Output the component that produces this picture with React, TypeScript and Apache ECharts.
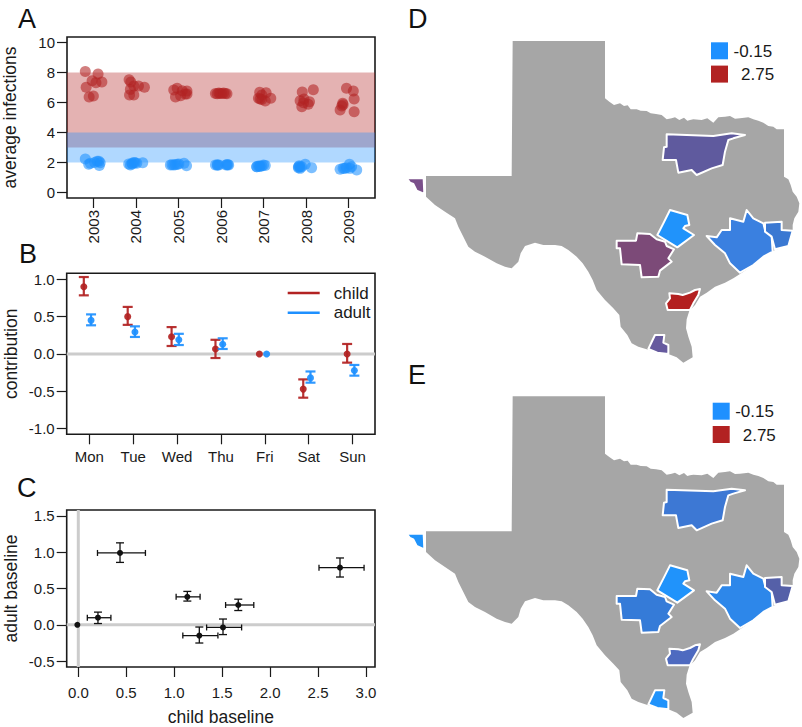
import React, { useEffect, useRef } from "react";
import * as echarts from "echarts";

const FONT = "Liberation Sans";
const RED = "#b22222";
const BLUE = "#1e90ff";

// Panel A
const years = [2003, 2004, 2005, 2006, 2007, 2008, 2009];
const infectionTicks = [0, 2, 4, 6, 8, 10];
const childBand = [3, 8];
const adultBand = [2, 4];
// [jitter, average infections] per year
const child2003 = [[-0.19, 8.08], [0.11, 7.91], [0.2, 7.37], [-0.03, 7.46], [0.06, 7.33], [-0.17, 7.02], [-0.1, 6.37], [0, 6.44]];
const child2004 = [[-0.16, 7.53], [-0.12, 7.37], [-0.05, 7.1], [-0.13, 6.88], [0.2, 7.02], [0.06, 7.1], [-0.15, 6.5], [-0.05, 6.5]];
const child2005 = [[-0.03, 6.95], [-0.11, 6.84], [0.09, 6.79], [0.2, 6.77], [0.16, 6.57], [-0.07, 6.37], [0.05, 6.46], [0.2, 6.57]];
const child2006 = [[-0.13, 6.61], [-0.05, 6.64], [0.02, 6.61], [0.1, 6.61], [0.14, 6.59], [-0.09, 6.59], [-0.02, 6.61], [0.06, 6.64]];
const child2007 = [[-0.09, 6.68], [0.06, 6.66], [-0.04, 6.5], [-0.12, 6.28], [0.17, 6.28], [-0.04, 6.21], [0.04, 6.1], [-0.08, 6.24]];
const child2008 = [[-0.09, 6.7], [0.17, 6.86], [-0.14, 6.12], [-0.05, 6.24], [-0.1, 5.72], [0.08, 6.06], [0.05, 5.88], [-0.06, 5.99]];
const child2009 = [[-0.05, 6.95], [0.11, 6.77], [0.13, 6.24], [-0.14, 5.95], [-0.16, 5.77], [-0.2, 5.5], [0.13, 5.39], [-0.13, 5.86]];
const adult2003 = [[-0.19, 2.23], [-0.11, 1.87], [0.03, 2.0], [0.13, 2.07], [0.16, 1.98], [0.14, 1.8], [0.09, 2.07], [-0.07, 1.94]];
const adult2004 = [[-0.17, 1.89], [-0.05, 2.0], [-0.09, 1.89], [0.02, 1.94], [0.16, 1.98], [-0.13, 1.83], [-0.02, 1.98], [-0.09, 1.94]];
const adult2005 = [[-0.19, 1.83], [-0.07, 1.85], [0.01, 1.89], [0.13, 1.94], [0.19, 1.78], [-0.15, 1.85], [-0.03, 1.87], [-0.11, 1.83]];
const adult2006 = [[-0.13, 1.83], [-0.05, 1.83], [-0.09, 1.83], [0.14, 1.85], [0.18, 1.83], [0.12, 1.83], [-0.08, 1.83], [0.16, 1.85]];
const adult2007 = [[-0.16, 1.71], [-0.09, 1.74], [0, 1.83], [0.04, 1.8], [-0.12, 1.76], [-0.16, 1.71], [-0.04, 1.76], [-0.08, 1.74]];
const adult2008 = [[-0.18, 1.71], [-0.14, 1.6], [-0.02, 1.87], [0.13, 1.65], [-0.1, 1.71], [-0.18, 1.65], [-0.14, 1.71], [-0.16, 1.78]];
const adult2009 = [[-0.2, 1.54], [-0.09, 1.6], [0.02, 1.87], [0.03, 1.6], [0.19, 1.49], [-0.05, 1.65], [0.07, 1.71], [-0.13, 1.6]];
const childYears = [child2003, child2004, child2005, child2006, child2007, child2008, child2009];
const adultYears = [adult2003, adult2004, adult2005, adult2006, adult2007, adult2008, adult2009];

// Panel B
const days = ["Mon", "Tue", "Wed", "Thu", "Fri", "Sat", "Sun"];
const contributionTicks = [-1, -0.5, 0, 0.5, 1];
const childDayMean = [0.9, 0.5, 0.23, 0.067, 0, -0.47, 0];
const childDayLow = [0.785, 0.39, 0.107, -0.054, 0, -0.585, -0.116];
const childDayHigh = [1.03, 0.63, 0.36, 0.19, 0, -0.34, 0.134];
const adultDayMean = [0.45, 0.295, 0.19, 0.13, 0, -0.32, -0.22];
const adultDayLow = [0.384, 0.228, 0.12, 0.067, 0, -0.384, -0.29];
const adultDayHigh = [0.53, 0.37, 0.27, 0.21, 0, -0.234, -0.147];

// Panel C
const childBaseTicks = [0, 0.5, 1, 1.5, 2, 2.5, 3];
const adultBaseTicks = [-0.5, 0, 0.5, 1, 1.5];
const baseX = [-0.01, 0.205, 0.435, 1.137, 1.668, 1.509, 1.262, 2.729];
const baseXLow = [-0.01, 0.094, 0.2, 1.02, 1.536, 1.338, 1.09, 2.51];
const baseXHigh = [-0.01, 0.34, 0.7, 1.27, 1.83, 1.703, 1.456, 2.98];
const baseY = [0, 0.098, 0.989, 0.385, 0.273, -0.036, -0.148, 0.787];
const baseYLow = [0, 0.018, 0.859, 0.327, 0.197, -0.134, -0.25, 0.658];
const baseYHigh = [0, 0.175, 1.128, 0.46, 0.353, 0.08, -0.03, 0.92];

// Panels D and E: map outlines in map units
const texasOutline = [[338, 123], [615, 123], [615, 295], [628, 305], [642, 315], [660, 310], [672, 318], [683, 316], [692, 328], [710, 328], [722, 332], [740, 333], [752, 340], [768, 342], [785, 345], [800, 358], [815, 355], [825, 352], [838, 360], [852, 353], [862, 362], [870, 360], [880, 358], [905, 360], [922, 355], [940, 368], [955, 352], [975, 350], [990, 348], [1005, 356], [1020, 355], [1045, 352], [1060, 358], [1075, 362], [1090, 368], [1105, 378], [1120, 380], [1130, 388], [1152, 388], [1152, 530], [1165, 538], [1172, 555], [1178, 575], [1190, 590], [1198, 610], [1195, 635], [1183, 655], [1178, 675], [1178, 692], [1165, 738], [1125, 750], [1095, 765], [1060, 795], [1020, 822], [1000, 835], [975, 848], [945, 860], [920, 878], [900, 890], [885, 915], [868, 932], [860, 958], [858, 985], [865, 1010], [875, 1040], [878, 1072], [850, 1088], [830, 1072], [805, 1062], [775, 1058], [740, 1048], [715, 1040], [695, 1030], [682, 1005], [662, 980], [658, 945], [640, 925], [615, 900], [590, 870], [578, 840], [565, 815], [548, 790], [530, 770], [505, 750], [485, 738], [465, 735], [430, 735], [405, 728], [375, 738], [362, 760], [355, 785], [335, 805], [315, 800], [290, 790], [255, 770], [225, 755], [205, 740], [190, 710], [175, 680], [165, 655], [135, 635], [105, 615], [78, 590], [78, 528], [335, 528]];
const elPaso = [[20, 535], [71, 535], [73, 582], [50, 572], [40, 552], [30, 548]];
const dallas = [[800, 403], [940, 408], [995, 400], [1035, 405], [1000, 415], [985, 420], [975, 455], [968, 495], [935, 505], [890, 525], [875, 510], [835, 518], [828, 480], [788, 480], [792, 442], [800, 440]];
const austin = [[810, 630], [862, 645], [868, 675], [855, 678], [850, 685], [882, 705], [832, 742], [772, 705], [790, 670]];
const sanAntonio = [[650, 722], [708, 722], [712, 700], [750, 702], [770, 718], [795, 725], [800, 738], [822, 748], [805, 775], [815, 785], [780, 812], [775, 830], [725, 832], [720, 795], [665, 793], [660, 745], [650, 745]];
const houston = [[920, 708], [950, 712], [965, 690], [990, 690], [990, 655], [1030, 665], [1040, 630], [1060, 655], [1090, 670], [1095, 690], [1115, 710], [1118, 755], [1090, 770], [1060, 795], [1020, 818], [990, 790], [975, 760], [945, 735]];
const beaumont = [[1095, 668], [1145, 665], [1145, 690], [1178, 692], [1165, 738], [1125, 748], [1115, 710], [1095, 695]];
const corpus = [[808, 880], [835, 882], [848, 885], [870, 878], [885, 870], [900, 867], [895, 885], [880, 910], [870, 930], [803, 930], [798, 910], [810, 895]];
const mcallen = [[765, 1005], [793, 1005], [790, 1028], [805, 1035], [805, 1062], [772, 1058], [745, 1047]];
const regions = [elPaso, dallas, austin, sanAntonio, houston, beaumont, corpus, mcallen];
const regionColorsD = ["#7a4f8a", "#5f5a9e", "#2093fb", "#7c4a78", "#3a80e0", "#3a78d2", "#b32020", "#665a9e"];
const regionColorsE = ["#2093fb", "#3d78d4", "#2093fb", "#357bd8", "#2d87ea", "#5560a8", "#4e6ac0", "#2093fb"];
const legendValues = ["-0.15", "2.75"];
const legendColors = [BLUE, RED];

const AX = { fontFamily: FONT, color: "#1a1a1a" };

function makeAxis(min: number, max: number, ticks: number[], extra: any = {}) {
  const { axisLabel, ...rest } = extra;
  return {
    type: "value",
    min,
    max,
    splitLine: { show: false },
    axisLine: { show: false, onZero: false },
    axisTick: { show: true, length: 10, customValues: ticks, lineStyle: { color: "#1a1a1a", width: 1.2 } },
    axisLabel: { customValues: ticks, fontSize: 15, margin: 12, hideOverlap: false, ...AX, ...axisLabel },
    nameLocation: "middle",
    nameTextStyle: { fontSize: 17.5, ...AX },
    ...rest,
  };
}

function hiddenAxis(min: number, max: number, extra: any = {}) {
  return { type: "value", show: false, min, max, ...extra };
}

function errorBars(name: string, color: string, means: number[], lows: number[], highs: number[], offset: number) {
  return {
    name,
    type: "custom",
    xAxisIndex: 1,
    yAxisIndex: 1,
    z: 3,
    itemStyle: { color },
    encode: { x: 0, y: 1 },
    data: means.map((m, i) => [i + 1 + offset, m, lows[i], highs[i]]),
    renderItem: (_: any, api: any) => {
      const x = api.value(0);
      const [px, py] = api.coord([x, api.value(1)]);
      const lo = api.coord([x, api.value(2)])[1];
      const hi = api.coord([x, api.value(3)])[1];
      const s = { stroke: color, lineWidth: 2.2, opacity: 0.92 };
      const children: any[] = [];
      if (hi !== lo) {
        children.push(
          { type: "line", shape: { x1: px, y1: lo, x2: px, y2: hi }, style: s },
          { type: "line", shape: { x1: px - 5, y1: lo, x2: px + 5, y2: lo }, style: s },
          { type: "line", shape: { x1: px - 5, y1: hi, x2: px + 5, y2: hi }, style: s }
        );
      }
      children.push({ type: "circle", shape: { cx: px, cy: py, r: 3.5 }, style: { fill: color, opacity: 0.92 } });
      return { type: "group", children };
    },
  };
}

function mapSeries(index: number, colors: string[]) {
  const toPoints = (pts: number[][], api: any) => pts.map((p) => api.coord(p));
  return [
    {
      type: "custom",
      xAxisIndex: index,
      yAxisIndex: index,
      silent: true,
      clip: false,
      z: 1,
      encode: { x: 0, y: 1 },
      data: [[0, 0]],
      renderItem: (_: any, api: any) => ({
        type: "polygon",
        shape: { points: toPoints(texasOutline, api) },
        style: { fill: "#a6a6a6" },
      }),
    },
    {
      type: "custom",
      xAxisIndex: index,
      yAxisIndex: index,
      silent: true,
      clip: false,
      z: 2,
      encode: { x: 0, y: 1 },
      data: regions.map((_, i) => [i, i]),
      renderItem: (params: any, api: any) => ({
        type: "polygon",
        shape: { points: toPoints(regions[params.dataIndex], api) },
        style: { fill: colors[params.dataIndex], stroke: "#ffffff", lineWidth: 2, lineJoin: "round" },
      }),
    },
  ];
}

function refLine(xi: number, pts: number[][]) {
  return {
    type: "line",
    xAxisIndex: xi,
    yAxisIndex: xi,
    silent: true,
    z: 1,
    showSymbol: false,
    symbol: "none",
    lineStyle: { color: "#cccccc", width: 3 },
    data: pts,
  };
}

function legendBlock(top: number, left: number) {
  const out: any[] = [];
  legendValues.forEach((v, i) => {
    const y = top + i * 23.3;
    out.push({ type: "rect", left: left, top: y, shape: { width: 17, height: 17 }, style: { fill: legendColors[i] } });
    out.push({
      type: "text",
      left: i === 0 ? left + 22.5 : left + 30,
      top: y + 0.5,
      style: { text: v, fontSize: 17, fontFamily: FONT, fill: "#1a1a1a" },
    });
  });
  return out;
}

const letter = (text: string, left: number, top: number) => ({
  text,
  left,
  top,
  padding: 0,
  textStyle: { fontSize: 27, fontWeight: "normal", fontFamily: FONT, color: "#111" },
});

export default function App() {
  const ref = useRef<HTMLDivElement>(null);
  useEffect(() => {
    document.body.style.margin = "0";
    const chart = echarts.init(ref.current!, undefined, { renderer: "svg" });
    const gridBox = { show: true, borderColor: "#1a1a1a", borderWidth: 1.6, backgroundColor: "transparent" };
    const bandArea = (band: number[], color: string) => ({
      silent: true,
      itemStyle: { color, opacity: 0.35 },
      data: [[{ yAxis: band[0] }, { yAxis: band[1] }]],
    });
    const mkScatter = (name: string, color: string, sets: number[][][], band: number[]) => ({
      name: name + " infections",
      type: "scatter",
      xAxisIndex: 0,
      yAxisIndex: 0,
      symbolSize: 11,
      silent: true,
      itemStyle: { color, opacity: 0.58 },
      markArea: bandArea(band, color),
      data: sets.flatMap((pts, i) => pts.map((p) => [years[i] + p[0], p[1]])),
    });

    chart.setOption({
      animation: false,
      textStyle: { fontFamily: FONT },
      title: [
        letter("A", 18, 5),
        letter("B", 19, 240),
        letter("C", 17, 474),
        letter("D", 408, 5),
        letter("E", 408, 361),
      ],
      legend: {
        show: true,
        data: ["child", "adult"],
        orient: "vertical",
        left: 287.7,
        top: 284.5,
        padding: 0,
        itemWidth: 32,
        itemHeight: 2.5,
        itemGap: 2.7,
        icon: "rect",
        selectedMode: false,
        textStyle: { fontSize: 17, fontFamily: FONT, color: "#1a1a1a", lineHeight: 17, padding: [0, 0, 0, 9] },
      },
      grid: [
        { left: 66.7, top: 37, width: 308.3, height: 161, ...gridBox },
        { left: 66.7, top: 273.3, width: 308.3, height: 161, ...gridBox },
        { left: 66.7, top: 510, width: 308.3, height: 161, ...gridBox },
        { left: 400, top: 0, width: 402, height: 365, show: false },
        { left: 400, top: 355.33, width: 402, height: 365, show: false },
      ],
      xAxis: [
        {
          gridIndex: 0,
          ...makeAxis(2002.38, 2009.62, years, { axisLabel: { rotate: 90, formatter: (v: number) => String(v) } }),
        },
        {
          gridIndex: 1,
          ...makeAxis(0.485, 7.51, days.map((_, i) => i + 1), {
            axisLabel: { margin: 15, formatter: (v: number) => days[v - 1] },
          }),
        },
        {
          gridIndex: 2,
          name: "child baseline",
          nameGap: 41,
          ...makeAxis(-0.121, 3.094, childBaseTicks, {
            axisLabel: { margin: 18, formatter: (v: number) => v.toFixed(1) },
          }),
        },
        hiddenAxis(0, 1206, { gridIndex: 3 }),
        hiddenAxis(0, 1206, { gridIndex: 4 }),
      ],
      yAxis: [
        { gridIndex: 0, name: "average infections", nameGap: 48, ...makeAxis(-0.38, 10.38, infectionTicks) },
        {
          gridIndex: 1,
          name: "contribution",
          nameGap: 47,
          ...makeAxis(-1.075, 1.08, contributionTicks, { axisLabel: { formatter: (v: number) => v.toFixed(1) } }),
        },
        {
          gridIndex: 2,
          name: "adult baseline",
          nameGap: 47,
          ...makeAxis(-0.58, 1.58, adultBaseTicks, { axisLabel: { formatter: (v: number) => v.toFixed(1) } }),
        },
        hiddenAxis(0, 1095, { gridIndex: 3, inverse: true }),
        hiddenAxis(0, 1095, { gridIndex: 4, inverse: true }),
      ],
      series: [
        mkScatter("child", RED, childYears, childBand),
        mkScatter("adult", BLUE, adultYears, adultBand),
        refLine(1, [[0.485, 0], [7.51, 0]]),
        errorBars("child", RED, childDayMean, childDayLow, childDayHigh, -0.125),
        errorBars("adult", BLUE, adultDayMean, adultDayLow, adultDayHigh, 0.04),
        refLine(2, [[-0.121, 0], [3.094, 0]]),
        refLine(2, [[0, -0.58], [0, 1.58]]),
        {
          type: "custom",
          name: "baselines",
          xAxisIndex: 2,
          yAxisIndex: 2,
          z: 3,
          encode: { x: 0, y: 1 },
          data: baseX.map((x, i) => [x, baseY[i], baseXLow[i], baseXHigh[i], baseYLow[i], baseYHigh[i]]),
          renderItem: (_: any, api: any) => {
            const [px, py] = api.coord([api.value(0), api.value(1)]);
            const xl = api.coord([api.value(2), api.value(1)])[0];
            const xh = api.coord([api.value(3), api.value(1)])[0];
            const yl = api.coord([api.value(0), api.value(4)])[1];
            const yh = api.coord([api.value(0), api.value(5)])[1];
            const s = { stroke: "#111", lineWidth: 1.3 };
            const children: any[] = [];
            if (xl !== xh) {
              children.push(
                { type: "line", shape: { x1: xl, y1: py, x2: xh, y2: py }, style: s },
                { type: "line", shape: { x1: xl, y1: py - 3, x2: xl, y2: py + 3 }, style: s },
                { type: "line", shape: { x1: xh, y1: py - 3, x2: xh, y2: py + 3 }, style: s },
                { type: "line", shape: { x1: px, y1: yl, x2: px, y2: yh }, style: s },
                { type: "line", shape: { x1: px - 4, y1: yl, x2: px + 4, y2: yl }, style: s },
                { type: "line", shape: { x1: px - 4, y1: yh, x2: px + 4, y2: yh }, style: s }
              );
            }
            children.push({ type: "circle", shape: { cx: px, cy: py, r: 3 }, style: { fill: "#111" } });
            return { type: "group", children };
          },
        },
        ...mapSeries(3, regionColorsD),
        ...mapSeries(4, regionColorsE),
      ],
      graphic: [...legendBlock(42.3, 711), ...legendBlock(402.7, 712.7)],
    });
    return () => chart.dispose();
  }, []);
  return <div ref={ref} style={{ position: "absolute", left: 0, top: 0, width: 802, height: 727 }} />;
}
